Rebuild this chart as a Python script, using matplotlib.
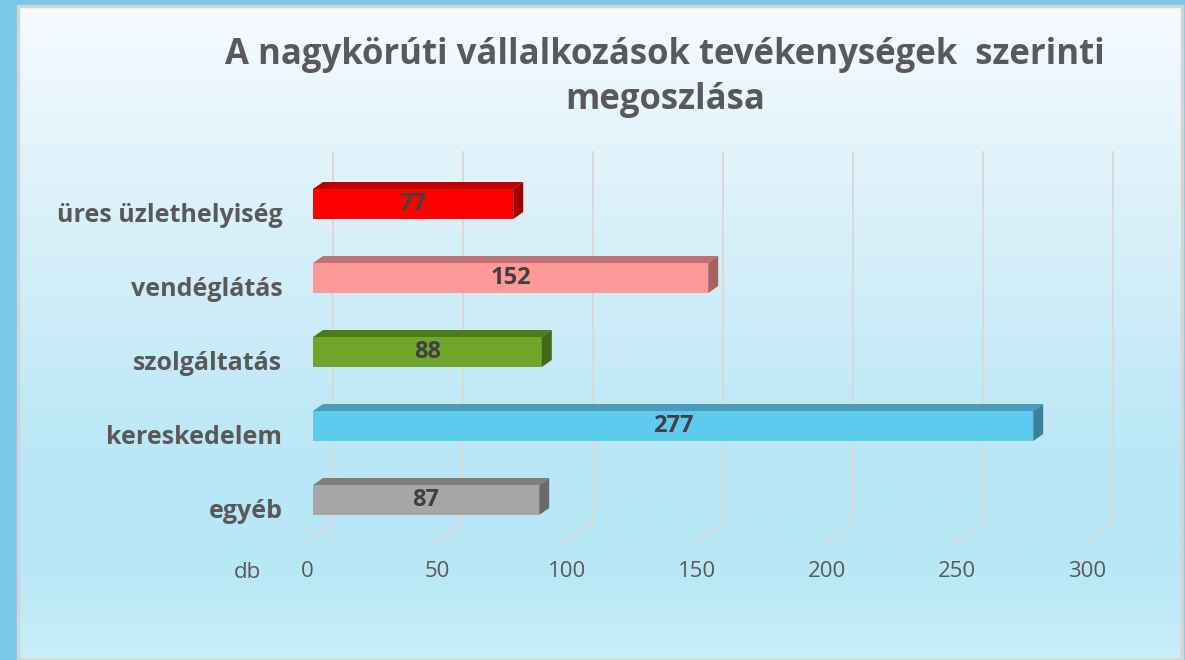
import numpy as np
import matplotlib
matplotlib.use("Agg")
import matplotlib.pyplot as plt
from matplotlib.patches import Polygon, Rectangle
from matplotlib.colors import LinearSegmentedColormap
from matplotlib.transforms import ScaledTranslation

# ---- data ----
categories = ["egyéb", "kereskedelem", "szolgáltatás", "vendéglátás", "üres üzlethelyiség"]
values = [87, 277, 88, 152, 77]
front_colors = ["#a6a6a6", "#5ecbee", "#6fa52a", "#ff9999", "#ff0000"]
top_colors = ["#7f7f7f", "#4a9cbb", "#4f7a1c", "#bf7272", "#c00000"]
side_colors = ["#6a6a6a", "#3e8099", "#426818", "#a86060", "#a00000"]
xticks = [0, 50, 100, 150, 200, 250, 300]
title1 = "A nagykörúti vállalkozások tevékenységek  szerinti"
title2 = "megoszlása"
unit_label = "db"

W, H = 1185, 660
fig = plt.figure(figsize=(W / 100, H / 100), dpi=100)
fig.patch.set_facecolor("#79c7e9")

# panel background with gradient
px0, px1, py0 = 18, 1182, 6
bg = fig.add_axes([px0 / W, 0, (px1 - px0) / W, (H - py0) / H])
cmap = LinearSegmentedColormap.from_list(
    "bg",
    [(0.0, "#f6fbfe"), (0.3, "#dcf1fa"), (0.7, "#b9e7f6"), (0.85, "#b8e7f6"), (1.0, "#c8eef9")],
)
grad = np.linspace(0, 1, 256).reshape(-1, 1)
bg.imshow(grad, aspect="auto", cmap=cmap, extent=[0, 1, 0, 1], origin="upper")
bg.add_patch(Rectangle((0, 0), 1, 1, transform=bg.transAxes, fill=False,
                       edgecolor="#d4d4d4", lw=2.5, clip_on=False))
bg.set_xlim(0, 1)
bg.set_ylim(0, 1)
bg.axis("off")

# main axes: x=0 at px 313, x=300 at px 1093 ; top px 152, bottom px 543
x0px, x300px = 313, 1093
ytop_px, ybot_px = 152, 543
XS = (x300px - x0px) / 300.0
YS = 74.0
ylim_top = 4 + (204 - ytop_px) / YS
ylim_bot = -(ybot_px - 500) / YS
ax = fig.add_axes([x0px / W, (H - ybot_px) / H, (x300px - x0px) / W, (ybot_px - ytop_px) / H])
ax.set_xlim(0, 300)
ax.set_ylim(ylim_bot, ylim_top)
ax.patch.set_alpha(0)
for s in ax.spines.values():
    s.set_visible(False)

# 3D-like gridlines (back wall + floor diagonal)
gx = 20 / XS
fx = -8 / XS
y_floor = -(523 - 500) / YS
for t in xticks:
    ax.plot([t + gx, t + gx], [ylim_top, y_floor], color="#d9d9d9", lw=1.4, zorder=1, clip_on=False)
    ax.plot([t + gx, t + fx], [y_floor, ylim_bot], color="#d9d9d9", lw=1.4, zorder=1, clip_on=False)

# bars
ypos = np.arange(len(categories))
h = 30 / YS
dx = 10 / XS
dy = 7 / YS
ax.barh(ypos, values, height=h, color=front_colors, zorder=3, edgecolor="none")
for y, v, tc, sc in zip(ypos, values, top_colors, side_colors):
    yt = y + h / 2
    yb = y - h / 2
    ax.add_patch(Polygon([(0, yt), (v, yt), (v + dx, yt + dy), (dx, yt + dy)],
                         closed=True, facecolor=tc, edgecolor="none", zorder=3))
    ax.add_patch(Polygon([(v, yb), (v, yt), (v + dx, yt + dy), (v + dx, yb + dy)],
                         closed=True, facecolor=sc, edgecolor="none", zorder=3))
    ax.text(v / 2, y, f"{v}", ha="center", va="center", fontsize=17, fontweight="bold",
            color="#404040", family="Open Sans", zorder=5)

# ticks
ax.set_yticks(ypos)
ax.set_yticklabels(categories, fontsize=18, fontweight="bold", color="#595959", family="Open Sans")
ax.tick_params(axis="y", length=0, pad=22)
for lab in ax.get_yticklabels():
    lab.set_transform(lab.get_transform() + ScaledTranslation(0, -6 / 72, fig.dpi_scale_trans))
ax.set_xticks(xticks)
ax.set_xticklabels([str(t) for t in xticks], fontsize=16, color="#595959", family="Open Sans")
ax.tick_params(axis="x", length=0, pad=13)
for lab in ax.get_xticklabels():
    lab.set_transform(lab.get_transform() + ScaledTranslation(-6 / 100, 0, fig.dpi_scale_trans))

fig.text(247 / W, 1 - 572 / H, unit_label, ha="center", va="center", fontsize=16,
         color="#595959", family="Open Sans")

# title
fig.text(665 / W, 1 - 64 / H, title1, ha="center", va="baseline", fontsize=25,
         fontweight="bold", color="#595959", family="Open Sans")
fig.text(665 / W, 1 - 109 / H, title2, ha="center", va="baseline", fontsize=25,
         fontweight="bold", color="#595959", family="Open Sans")

fig.savefig("out.png", dpi=100, facecolor=fig.get_facecolor())
